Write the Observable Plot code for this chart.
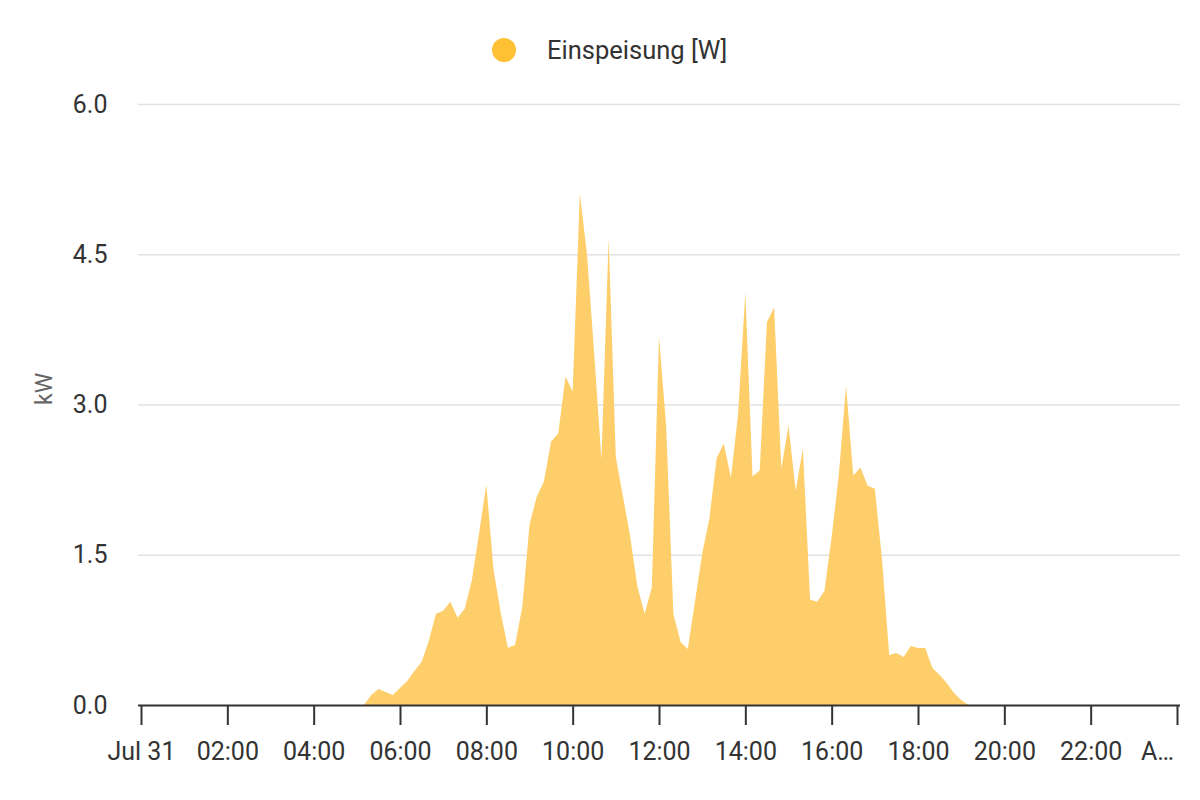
<!DOCTYPE html>
<html>
<head>
<meta charset="utf-8">
<script src="https://cdn.jsdelivr.net/npm/d3@7"></script>
<script src="https://cdn.jsdelivr.net/npm/@observablehq/plot@0.6"></script>
<style>
  html, body { margin: 0; padding: 0; background: #fff; }
  body { width: 1200px; height: 800px; overflow: hidden; font-family: Roboto, sans-serif; }
  #legend { position: relative; height: 84px; }
  #legend .dot { position: absolute; left: 492px; top: 38px; width: 24px; height: 24px; border-radius: 50%; background: #FFC133; }
  #legend .lbl { position: absolute; left: 547px; top: 38px; font-size: 25.5px; line-height: 25px; color: #333; white-space: nowrap; }
</style>
</head>
<body>
<div id="legend"><span class="dot"></span><span class="lbl" id="seriesName"></span></div>
<div id="chart"></div>
<script>
const seriesName = "Einspeisung [W]";
const yAxisLabel = "kW";
const dayStart = "2024-07-31T00:00:00Z";
const dayEnd = "2024-08-01T00:00:00Z";

const times = [
  "05:10","05:20","05:30","05:40","05:50",
  "06:00","06:10","06:20","06:30","06:40","06:50",
  "07:00","07:10","07:20","07:30","07:40","07:50",
  "08:00","08:10","08:20","08:30","08:40","08:50",
  "09:00","09:10","09:20","09:30","09:40","09:50",
  "10:00","10:10","10:20","10:30","10:40","10:50",
  "11:00","11:10","11:20","11:30","11:40","11:50",
  "12:00","12:10","12:20","12:30","12:40","12:50",
  "13:00","13:10","13:20","13:30","13:40","13:50",
  "14:00","14:10","14:20","14:30","14:40","14:50",
  "15:00","15:10","15:20","15:30","15:40","15:50",
  "16:00","16:10","16:20","16:30","16:40","16:50",
  "17:00","17:10","17:20","17:30","17:40","17:50",
  "18:00","18:10","18:20","18:30","18:40","18:50",
  "19:00","19:10"
];

const kw = [
  0.00, 0.10, 0.16, 0.13, 0.10,
  0.17, 0.24, 0.34, 0.43, 0.64, 0.91,
  0.94, 1.03, 0.87, 0.96, 1.25, 1.72,
  2.20, 1.35, 0.92, 0.57, 0.60, 0.98,
  1.80, 2.08, 2.23, 2.63, 2.71, 3.28,
  3.13, 5.11, 4.49, 3.50, 2.45, 4.66,
  2.47, 2.08, 1.68, 1.18, 0.91, 1.17,
  3.68, 2.78, 0.91, 0.63, 0.56, 1.03,
  1.51, 1.86, 2.46, 2.61, 2.27, 2.91,
  4.12, 2.28, 2.34, 3.82, 3.97, 2.36,
  2.79, 2.14, 2.56, 1.05, 1.03, 1.14,
  1.68, 2.30, 3.19, 2.29, 2.37, 2.19,
  2.16, 1.45, 0.50, 0.52, 0.48, 0.59,
  0.57, 0.57, 0.37, 0.30, 0.22, 0.12,
  0.05, 0.00
];

const yTicks = [0, 1.5, 3.0, 4.5, 6.0];
const xTickTimes = [
  "2024-07-31T00:00:00Z","2024-07-31T02:00:00Z","2024-07-31T04:00:00Z",
  "2024-07-31T06:00:00Z","2024-07-31T08:00:00Z","2024-07-31T10:00:00Z",
  "2024-07-31T12:00:00Z","2024-07-31T14:00:00Z","2024-07-31T16:00:00Z",
  "2024-07-31T18:00:00Z","2024-07-31T20:00:00Z","2024-07-31T22:00:00Z",
  "2024-08-01T00:00:00Z"
];
const xTickLabels = ["Jul 31","02:00","04:00","06:00","08:00","10:00","12:00","14:00","16:00","18:00","20:00","22:00","A…"];

document.getElementById("seriesName").textContent = seriesName;

const data = times.map((t, i) => ({time: new Date(`2024-07-31T${t}:00Z`), kw: kw[i]}));
const tickDates = xTickTimes.map(s => new Date(s));
const lastIdx = tickDates.length - 1;
const labelOf = new Map(tickDates.map((d, i) => [+d, i === lastIdx ? "" : xTickLabels[i]]));

const chart = Plot.plot({
  width: 1200,
  height: 716,
  marginTop: 20,
  marginBottom: 95,
  marginLeft: 141,
  marginRight: 23,
  style: {fontFamily: "Roboto, sans-serif", fontSize: "25px", color: "#333", background: "#fff"},
  x: {type: "utc", domain: [new Date(dayStart), new Date(dayEnd)]},
  y: {domain: [0, 6]},
  marks: [
    Plot.ruleY(yTicks.slice(1), {stroke: "#e2e2e2", strokeWidth: 1.5, insetLeft: -3, insetRight: -3}),
    Plot.areaY(data, {x: "time", y: "kw", fill: "#FDCE69"}),
    Plot.ruleY([0], {stroke: "#333", strokeWidth: 2, insetLeft: -3, insetRight: -3}),
    Plot.axisX(tickDates, {
      tickSize: 20, tickPadding: 17, stroke: "#333", strokeWidth: 2,
      tickFormat: d => labelOf.get(+d), fill: "#333", fontSize: 25, label: null
    }),
    Plot.text([tickDates[lastIdx]], {
      x: d => d, frameAnchor: "bottom", dy: 54, dx: -20, text: () => xTickLabels[lastIdx],
      fill: "#333", fontSize: 25
    }),
    Plot.axisY(yTicks, {
      tickSize: 0, tickPadding: 34, tickFormat: d => d.toFixed(1),
      fill: "#333", fontSize: 25, label: null
    }),
    Plot.text([yAxisLabel], {frameAnchor: "left", dx: -97, rotate: -90, fill: "#666", fontSize: 23})
  ]
});
document.getElementById("chart").appendChild(chart);
</script>
</body>
</html>
